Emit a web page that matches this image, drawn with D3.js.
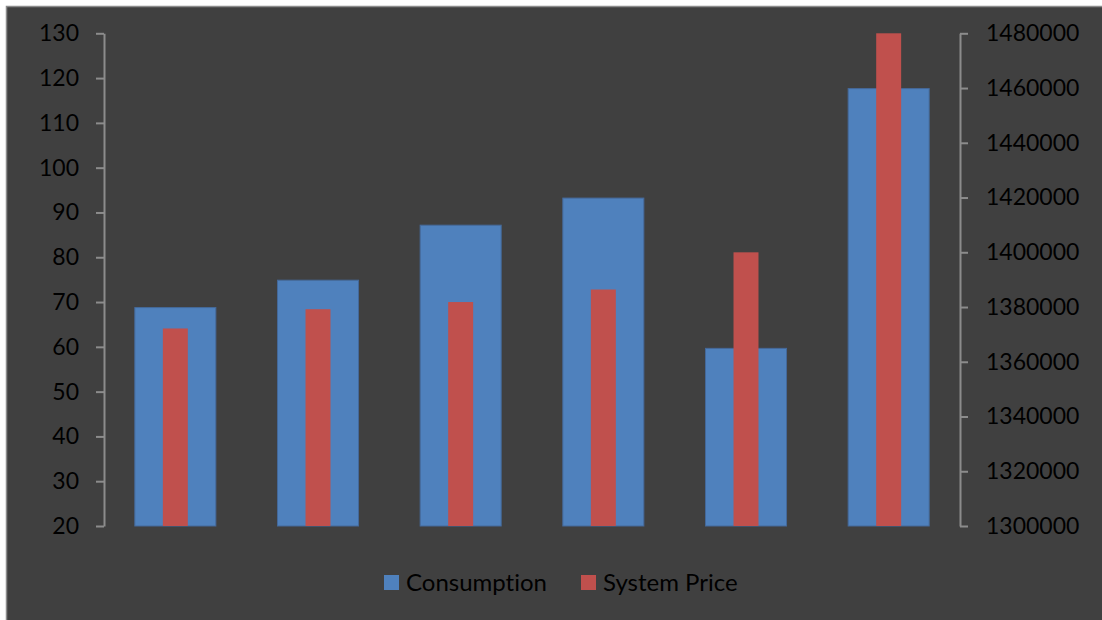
<!DOCTYPE html>
<html>
<head>
<meta charset="utf-8">
<script src="https://cdn.jsdelivr.net/npm/d3@7"></script>
<style>
  html, body { margin: 0; padding: 0; background: #ffffff; }
  svg { display: block; }
  text { font-family: Lato, "Liberation Sans", sans-serif; fill: #000;
         font-variant-ligatures: none; font-feature-settings: "liga" 0, "clig" 0; }
</style>
</head>
<body>
<svg id="chart" width="1102" height="620"></svg>
<script>
// Six periods, consumption (right axis) and system price (left axis)
const categories = ["P1", "P2", "P3", "P4", "P5", "P6"];
const consumption = [1379800, 1389800, 1409900, 1419800, 1364900, 1459800];
const systemPrice = [64.1, 68.4, 70.0, 72.8, 81.1, 130];
const priceTicks = [20, 30, 40, 50, 60, 70, 80, 90, 100, 110, 120, 130];
const consumptionTicks = [1300000, 1320000, 1340000, 1360000, 1380000, 1400000, 1420000, 1440000, 1460000, 1480000];

const svg = d3.select("#chart");
const W = 1102, H = 620;
const plot = { left: 104, right: 960, top: 33.3, bottom: 526 };

// chart panel
svg.append("rect")
  .attr("x", 6.5).attr("y", 6.5)
  .attr("width", W + 10).attr("height", H + 10)
  .attr("fill", "#404040")
  .attr("stroke", "#8c8c8c").attr("stroke-width", 1.5);

const x = d3.scaleBand().domain(categories).range([plot.left, plot.right]).padding(0);
const yLeft = d3.scaleLinear().domain([20, 130]).range([plot.bottom, plot.top]);
const yRight = d3.scaleLinear().domain([1300000, 1480000]).range([plot.bottom, plot.top]);

const blueW = x.bandwidth() * 0.568;
const redW = x.bandwidth() * 0.175;

// consumption bars (wide)
svg.append("g").selectAll("rect")
  .data(categories)
  .join("rect")
  .attr("x", (d) => x(d) + (x.bandwidth() - blueW) / 2)
  .attr("width", blueW)
  .attr("y", (d, i) => yRight(consumption[i]))
  .attr("height", (d, i) => yRight.range()[0] - yRight(consumption[i]))
  .attr("fill", "#4f81bd")
  .attr("stroke", "#45699a").attr("stroke-width", 1);

// system price bars (narrow, in front)
svg.append("g").selectAll("rect")
  .data(categories)
  .join("rect")
  .attr("x", (d) => x(d) + (x.bandwidth() - redW) / 2)
  .attr("width", redW)
  .attr("y", (d, i) => yLeft(systemPrice[i]))
  .attr("height", (d, i) => yLeft.range()[0] - yLeft(systemPrice[i]))
  .attr("fill", "#c0504d");

// left axis
const leftAxis = svg.append("g")
  .attr("transform", `translate(${plot.left},0)`)
  .call(d3.axisLeft(yLeft).tickValues(priceTicks).tickSize(8).tickPadding(17).tickSizeOuter(0));
leftAxis.select(".domain").attr("stroke", "#8c8c8c").attr("stroke-width", 2);
leftAxis.selectAll(".tick line").attr("stroke", "#8c8c8c").attr("stroke-width", 2);
leftAxis.selectAll(".tick text").attr("font-size", 23).attr("fill", "#000")
  .style("font-family", "Lato, sans-serif");

// right axis
const rightAxis = svg.append("g")
  .attr("transform", `translate(${plot.right},0)`)
  .call(d3.axisRight(yRight).tickValues(consumptionTicks).tickSize(8).tickPadding(18).tickSizeOuter(0).tickFormat(d3.format("d")));
rightAxis.select(".domain").attr("stroke", "#8c8c8c").attr("stroke-width", 2);
rightAxis.selectAll(".tick line").attr("stroke", "#8c8c8c").attr("stroke-width", 2);
rightAxis.selectAll(".tick text").attr("font-size", 23).attr("fill", "#000")
  .style("font-family", "Lato, sans-serif");

// legend
const legendItems = [
  { name: "Consumption", color: "#4f81bd", x: 384 },
  { name: "System Price", color: "#c0504d", x: 581 }
];
const lg = svg.append("g").selectAll("g").data(legendItems).join("g")
  .attr("transform", (d) => `translate(${d.x},575)`);
lg.append("rect").attr("width", 15).attr("height", 15).attr("fill", (d) => d.color);
lg.append("text").attr("x", 22).attr("y", 15.5)
  .attr("font-size", 24).text((d) => d.name);
</script>
</body>
</html>
